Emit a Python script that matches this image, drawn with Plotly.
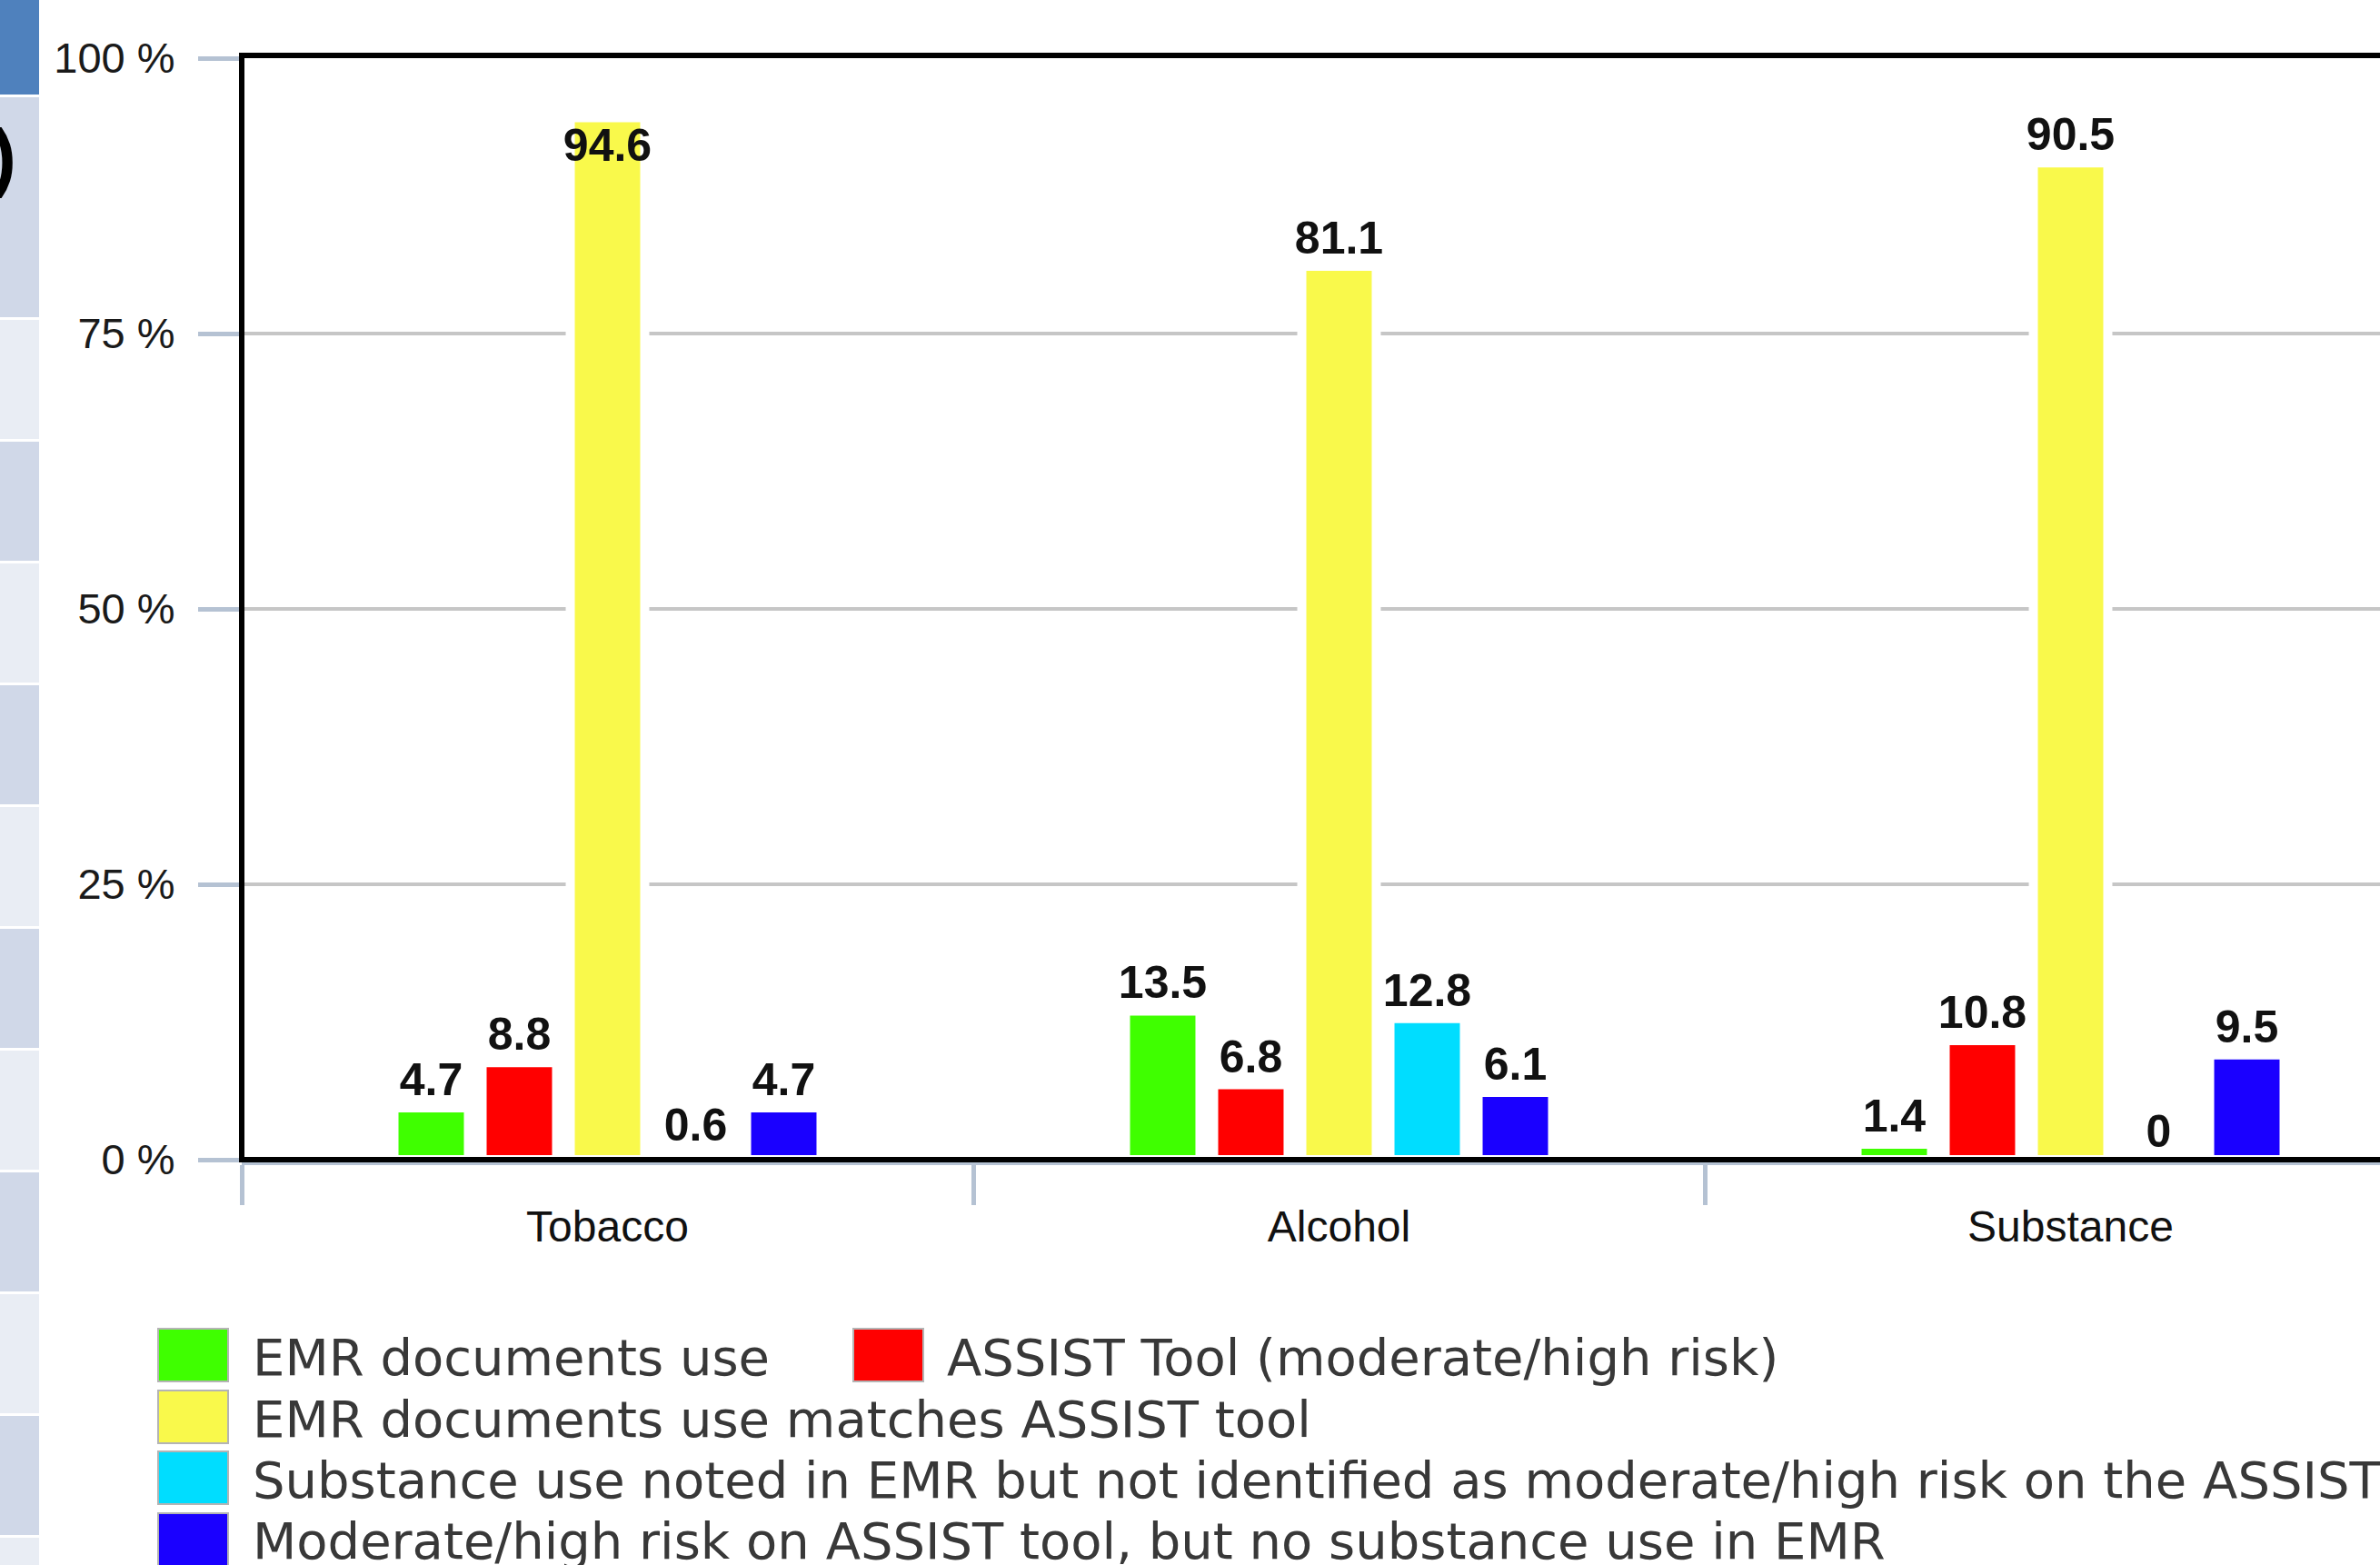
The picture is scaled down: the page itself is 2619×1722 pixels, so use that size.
import plotly.graph_objects as go

# ---------------- data ----------------
categories = ["Tobacco", "Alcohol", "Substance"]
series_names = [
    "EMR documents use",
    "ASSIST Tool (moderate/high risk)",
    "EMR documents use matches ASSIST tool",
    "Substance use noted in EMR but not identified as moderate/high risk on the ASSIST",
    "Moderate/high risk on ASSIST tool, but no substance use in EMR",
]
emr_use = [4.7, 13.5, 1.4]
assist_risk = [8.8, 6.8, 10.8]
emr_matches_assist = [94.6, 81.1, 90.5]
emr_not_assist = [0.6, 12.8, 0]
assist_not_emr = [4.7, 6.1, 9.5]
series_values = [emr_use, assist_risk, emr_matches_assist, emr_not_assist, assist_not_emr]
series_colors = ["#3fff00", "#ff0000", "#f9f94b", "#00ddff", "#1a00ff"]
yellow_text_positions = ["inside", "outside", "outside"]
y_ticks = [0, 25, 50, 75, 100]
y_tick_labels = ["0 %", "25 %", "50 %", "75 %", "100 %"]

# ---------------- geometry helpers (layout only) ----------------
W, H = 2619, 1722
L, T, B = 266, 64, 446
PW = W - L
PH = H - T - B
CAT_W = 805.0


def px(xp):
    return (xp - L) / PW


def py(yp):
    return (H - B - yp) / PH


fig = go.Figure()
for name, vals, col in zip(series_names, series_values, series_colors):
    tp = yellow_text_positions if vals is emr_matches_assist else "outside"
    fig.add_trace(go.Bar(
        name=name, x=categories, y=vals,
        marker=dict(color=col, line=dict(color="white", width=10)),
        text=[f"{v:g}" for v in vals], texttemplate="%{text}", textposition=tp,
        textangle=0, insidetextanchor="end", constraintext="none", cliponaxis=False,
        textfont=dict(family="Liberation Sans, Arial, sans-serif", size=50,
                      color="#111111", weight="bold"),
        showlegend=False,
    ))

grey_axis = "#b5c2d3"
fig.update_layout(
    width=W, height=H, autosize=False,
    margin=dict(l=L, r=0, t=T, b=B, pad=0),
    paper_bgcolor="white", plot_bgcolor="white",
    barmode="group", bargap=0.3975, bargroupgap=0.155,
    showlegend=False,
    xaxis=dict(
        range=[-0.5, -0.5 + PW / CAT_W], showgrid=False, zeroline=False,
        showline=True, linecolor=grey_axis, linewidth=6,
        ticks="outside", tickson="boundaries", ticklen=44, tickwidth=5,
        tickcolor=grey_axis,
        tickfont=dict(family="Liberation Sans, Arial, sans-serif", size=48, color="#111111"),
        ticklabelstandoff=26,
    ),
    yaxis=dict(
        range=[0, 100], tickmode="array", tickvals=y_ticks, ticktext=y_tick_labels,
        showgrid=True, gridcolor="#c6c6c6", gridwidth=4, zeroline=False,
        showline=False, ticks="outside", ticklen=47, tickwidth=5,
        tickcolor=grey_axis,
        tickfont=dict(family="Liberation Sans, Arial, sans-serif", size=47, color="#1a1a1a"),
        ticklabelstandoff=16,
    ),
)

shapes = []
# black frame (open to the right, beyond the page)
shapes.append(dict(type="rect", xref="paper", yref="paper", x0=0, x1=1.02,
                   y0=0, y1=1.0025, line=dict(color="black", width=6), layer="above"))

# left page strip (remnant of neighbouring table)
shapes.append(dict(type="rect", xref="paper", yref="paper", x0=px(0), x1=px(43),
                   y0=py(0), y1=py(104), fillcolor="#4f81bd", line=dict(width=0)))
shapes.append(dict(type="rect", xref="paper", yref="paper", x0=px(0), x1=px(43),
                   y0=py(107), y1=py(349), fillcolor="#d0d8e8", line=dict(width=0)))
cell_tops = [352, 486, 620, 754, 888, 1022, 1156, 1290, 1424, 1558, 1692]
for i, top in enumerate(cell_tops):
    shapes.append(dict(type="rect", xref="paper", yref="paper", x0=px(0), x1=px(43),
                       y0=py(top), y1=py(min(top + 131, H)),
                       fillcolor="#e9edf4" if i % 2 == 0 else "#d0d8e8",
                       line=dict(width=0)))

# legend swatches
legend_pos = [(174, 1462), (939, 1462), (174, 1530), (174, 1597), (174, 1665)]
text_left = [276, 1040, 276, 276, 276]
annotations = []
for (sx, sy), tx, name, col in zip(legend_pos, text_left, series_names, series_colors):
    shapes.append(dict(type="rect", xref="paper", yref="paper",
                       x0=px(sx), x1=px(sx + 77), y0=py(sy + 58), y1=py(sy),
                       fillcolor=col, line=dict(color="#b4b4b4", width=2)))
    annotations.append(dict(xref="paper", yref="paper", x=px(tx), y=py(sy + 31),
                            xanchor="left", yanchor="middle", showarrow=False,
                            text=name,
                            font=dict(family="DejaVu Sans", size=56, color="#383838")))

annotations.append(dict(xref="paper", yref="paper", x=px(20), y=py(172),
                        xanchor="right", yanchor="middle", showarrow=False,
                        text=")", font=dict(family="Liberation Sans", size=84,
                                            color="black", weight="bold")))

fig.update_layout(shapes=shapes, annotations=annotations)
fig.write_html("out.html")
